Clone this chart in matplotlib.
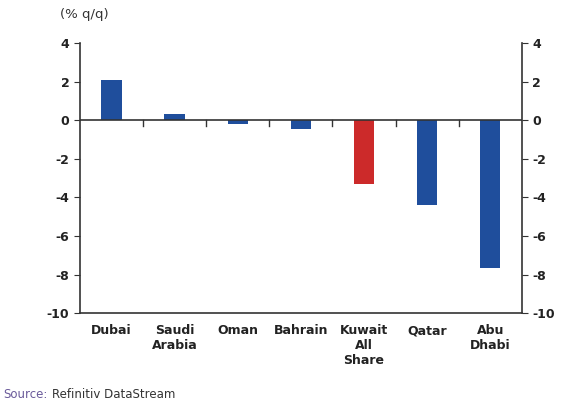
import matplotlib.pyplot as plt
import numpy as np

plt.rcParams["axes.unicode_minus"] = False

# index returns by market
markets = ["Dubai", "Saudi\nArabia", "Oman", "Bahrain", "Kuwait\nAll\nShare", "Qatar", "Abu\nDhabi"]
values = [2.1, 0.35, -0.2, -0.45, -3.3, -4.4, -7.65]
colors = ["#1f4e9c"] * 4 + ["#cc2a2a"] + ["#1f4e9c"] * 2
yticks = [4, 2, 0, -2, -4, -6, -8, -10]

fig = plt.figure(figsize=(5.87, 4.03), dpi=100)
ax = fig.add_axes([0.136, 0.223, 0.753, 0.670])

x = np.arange(len(markets))
ax.bar(x, values, width=0.32, color=colors, zorder=2)

ax.set_xlim(-0.5, len(markets) - 0.5)
ax.set_ylim(-10, 4)

# zero line with boundary ticks
ax.axhline(0, color="#333333", linewidth=1.2, zorder=3)
for b in np.arange(0.5, len(markets) - 0.5):
    ax.plot([b, b], [0, -0.3], color="#333333", linewidth=1, zorder=3)

ax.spines["top"].set_visible(False)
for s in ["left", "right", "bottom"]:
    ax.spines[s].set_color("#333333")
    ax.spines[s].set_linewidth(1.2)

ax.set_yticks(yticks)
ax.tick_params(axis="y", which="both", left=True, right=True, labelleft=True, labelright=True,
               direction="out", length=4, color="#333333", labelsize=9, labelcolor="#222222")
ax.set_xticks(x)
ax.set_xticklabels(markets, fontsize=9, color="#222222", fontweight="semibold")
ax.tick_params(axis="x", length=0, pad=8)
for lbl in ax.get_yticklabels():
    lbl.set_fontweight("semibold")

fig.text(0.102, 0.955, "(% q/q)", fontsize=9.5, color="#333333")
fig.text(0.005, 0.004, "Source:", fontsize=8.5, color="#6a5a9a", va="bottom")
fig.text(0.088, 0.004, "Refinitiv DataStream", fontsize=8.5, color="#333333", va="bottom")

fig.savefig("out.png", dpi=100)
